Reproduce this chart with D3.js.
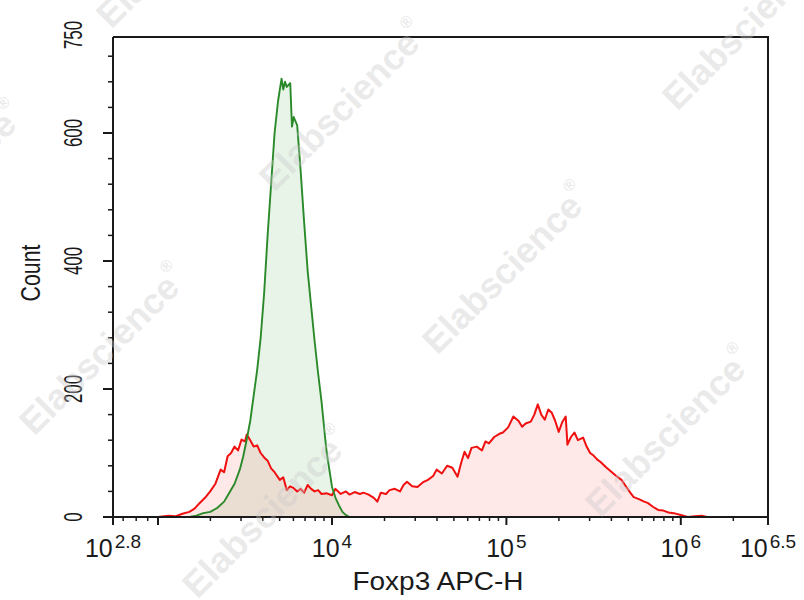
<!DOCTYPE html>
<html><head><meta charset="utf-8">
<script src="https://cdn.jsdelivr.net/npm/d3@7"></script>
<style>body{margin:0;background:#fff}</style>
</head><body>
<svg id="c" width="804" height="600"></svg>
<script>
// ---- data (log10 fluorescence, event count) ----
const redLog = [3.00,3.06,3.10,3.14,3.18,3.21,3.24,3.27,3.30,3.33,3.36,3.38,3.40,3.42,3.44,3.46,3.48,3.50,3.51,3.53,3.55,3.57,3.59,3.61,3.63,3.65,3.67,3.70,3.72,3.74,3.76,3.78,3.80,3.82,3.84,3.86,3.88,3.90,3.92,3.94,3.97,4.00,4.02,4.05,4.08,4.10,4.13,4.16,4.18,4.21,4.24,4.26,4.28,4.31,4.33,4.36,4.39,4.41,4.43,4.46,4.49,4.52,4.55,4.58,4.60,4.63,4.66,4.69,4.72,4.74,4.76,4.78,4.80,4.83,4.86,4.88,4.90,4.93,4.96,4.98,5.01,5.04,5.07,5.09,5.11,5.14,5.16,5.18,5.20,5.22,5.24,5.26,5.28,5.30,5.32,5.34,5.35,5.37,5.39,5.41,5.44,5.46,5.48,5.50,5.52,5.54,5.57,5.60,5.63,5.66,5.69,5.71,5.73,5.76,5.79,5.81,5.84,5.87,5.90,5.93,5.96,6.00,6.04,6.08,6.12,6.15];
const redCount = [0,2,1,5,8,13,22,30,40,52,74,70,95,100,110,104,121,118,129,120,110,112,100,93,88,76,70,58,62,42,48,45,40,44,38,50,44,40,42,36,37,34,44,36,40,35,39,36,38,35,30,24,38,36,42,44,40,50,55,48,47,54,58,64,74,68,80,77,63,84,102,92,108,110,104,118,115,125,130,132,140,157,150,141,146,149,160,176,160,152,168,163,150,133,148,157,113,125,132,120,124,110,100,96,90,86,78,71,64,58,46,38,31,28,24,22,16,11,10,7,6,3,0,1,2,0];
const greenLog = [3.14,3.18,3.22,3.26,3.30,3.34,3.38,3.41,3.44,3.47,3.49,3.51,3.53,3.55,3.57,3.59,3.61,3.63,3.65,3.67,3.69,3.71,3.72,3.73,3.74,3.76,3.77,3.78,3.80,3.82,3.84,3.86,3.88,3.90,3.92,3.94,3.96,3.97,3.99,4.00,4.02,4.04,4.06,4.08,4.10];
const greenCount = [0,0,2,6,8,14,24,38,52,74,95,121,150,190,230,280,350,440,520,600,650,685,668,680,672,678,610,625,612,540,460,385,330,275,225,180,125,100,65,47,30,18,8,3,0];
// ---- axes ----
const yMajorTicks = [0,200,400,600];
const yTopTick = 750;
const yMinorTicks = [40,80,120,160,240,280,320,360,440,480,520,560,640,680,720];
const xLabelExps = ["2.8","4","5","6","6.5"];
const xMajorTicks = [Math.pow(10,2.8),1e3,1e4,1e5,1e6,Math.pow(10,6.5)];
const xMinorTicks = [700,800,900,2e3,3e3,4e3,5e3,6e3,7e3,8e3,9e3,2e4,3e4,4e4,5e4,6e4,7e4,8e4,9e4,2e5,3e5,4e5,5e5,6e5,7e5,8e5,9e5,2e6];
const xTitle = "Foxp3 APC-H";
const yTitle = "Count";
const watermarkText = "Elabscience";

const svg = d3.select("#c");
const xMin = Math.pow(10,2.8), xMax = Math.pow(10,6.5);
const x = d3.scaleLog().domain([xMin,1e3,1e4,xMax]).range([113,158,332,768]);
const y = d3.scaleLinear().domain([0,750]).range([517,37]);
const X0 = x(xMin), X1 = x(xMax), Y0 = y(0), Y1 = y(750);

svg.append("clipPath").attr("id","plot").append("rect")
  .attr("x",X0).attr("y",Y1).attr("width",X1-X0).attr("height",Y0-Y1);

const redData = redLog.map((l,i)=>({v:Math.pow(10,l), c:redCount[i]}));
const greenData = greenLog.map((l,i)=>({v:Math.pow(10,l), c:greenCount[i]}));
const area = d3.area().x(d=>x(d.v)).y0(y(0)).y1(d=>y(d.c));
const line = d3.line().x(d=>x(d.v)).y(d=>y(d.c));

const g = svg.append("g").attr("clip-path","url(#plot)");
g.append("path").datum(greenData).attr("d",area).attr("fill","rgba(0,128,0,0.09)");
g.append("path").datum(redData).attr("d",area).attr("fill","rgba(255,0,0,0.09)");
g.append("path").datum(redData).attr("d",line).attr("fill","none").attr("stroke","#f01010").attr("stroke-width",2).attr("stroke-linejoin","round");
g.append("path").datum(greenData).attr("d",line).attr("fill","none").attr("stroke","#2a8a2a").attr("stroke-width",1.9).attr("stroke-linejoin","round");

// frame
const axisCol = "#1a1a1a";
svg.append("path").attr("d",`M${X0},${Y1}H${X1}V${Y0}`).attr("fill","none").attr("stroke",axisCol).attr("stroke-width",2);
svg.append("line").attr("x1",X0).attr("x2",X0).attr("y1",Y1).attr("y2",Y0).attr("stroke",axisCol).attr("stroke-width",2);
svg.append("line").attr("x1",X0).attr("x2",X1).attr("y1",Y0).attr("y2",Y0).attr("stroke",axisCol).attr("stroke-width",2);

// y ticks
svg.selectAll(".ymaj").data(yMajorTicks).enter().append("line")
  .attr("x1",X0-10).attr("x2",X0).attr("y1",d=>y(d)).attr("y2",d=>y(d)).attr("stroke",axisCol).attr("stroke-width",2);
svg.selectAll(".ymin").data(yMinorTicks).enter().append("line")
  .attr("x1",X0-5).attr("x2",X0).attr("y1",d=>y(d)).attr("y2",d=>y(d)).attr("stroke",axisCol).attr("stroke-width",1.5);
svg.selectAll(".ylab").data(yMajorTicks.concat([yTopTick])).enter().append("text")
  .attr("transform",d=>`translate(82,${d===750?35:y(d)}) rotate(-90) scale(0.65,1)`)
  .attr("text-anchor","middle").attr("font-family","Liberation Sans, Arial, sans-serif")
  .attr("font-size",26).attr("fill","#1a1a1a").text(d=>d);

// x ticks
svg.selectAll(".xmaj").data(xMajorTicks).enter().append("line")
  .attr("x1",d=>x(d)).attr("x2",d=>x(d)).attr("y1",Y0).attr("y2",Y0+8).attr("stroke",axisCol).attr("stroke-width",2);
svg.selectAll(".xmin").data(xMinorTicks).enter().append("line")
  .attr("x1",d=>x(d)).attr("x2",d=>x(d)).attr("y1",Y0).attr("y2",Y0+4).attr("stroke",axisCol).attr("stroke-width",1.5);
const xl = svg.selectAll(".xlab").data(xLabelExps).enter().append("text")
  .attr("transform",d=>`translate(${x(Math.pow(10,+d))},557)`)
  .attr("text-anchor","middle").attr("font-family","Liberation Sans, Arial, sans-serif")
  .attr("fill","#1a1a1a");
xl.append("tspan").attr("font-size",25).text("10");
xl.append("tspan").attr("font-size",19).attr("dx",2).attr("dy",-9).text(d=>d);

// titles
svg.append("text").attr("transform","translate(438,590) scale(1.12,1)")
  .attr("text-anchor","middle").attr("font-family","Liberation Sans, Arial, sans-serif")
  .attr("font-size",25).attr("fill","#1a1a1a").text(xTitle);
svg.append("text").attr("transform","translate(40,273) rotate(-90) scale(0.76,1)")
  .attr("text-anchor","middle").attr("font-family","Liberation Sans, Arial, sans-serif")
  .attr("font-size",28).attr("fill","#1a1a1a").text(yTitle);

// watermarks
const wmPos = [[105,352],[268,515],[345,108],[508,271],[671,434],[748,27],[182,-55],[-58,189]];
const wm = svg.selectAll(".wm").data(wmPos).enter().append("text")
  .attr("transform",d=>`translate(${d[0]},${d[1]}) rotate(-45)`)
  .attr("text-anchor","middle").attr("dominant-baseline","middle")
  .attr("font-family","Liberation Sans, Arial, sans-serif").attr("font-weight","bold")
  .attr("font-size",36).attr("fill","#c8c8c8").attr("fill-opacity",0.4);
wm.append("tspan").text(watermarkText);
wm.append("tspan").attr("font-size",16).attr("dy",-16).text("®");
</script>
</body></html>
